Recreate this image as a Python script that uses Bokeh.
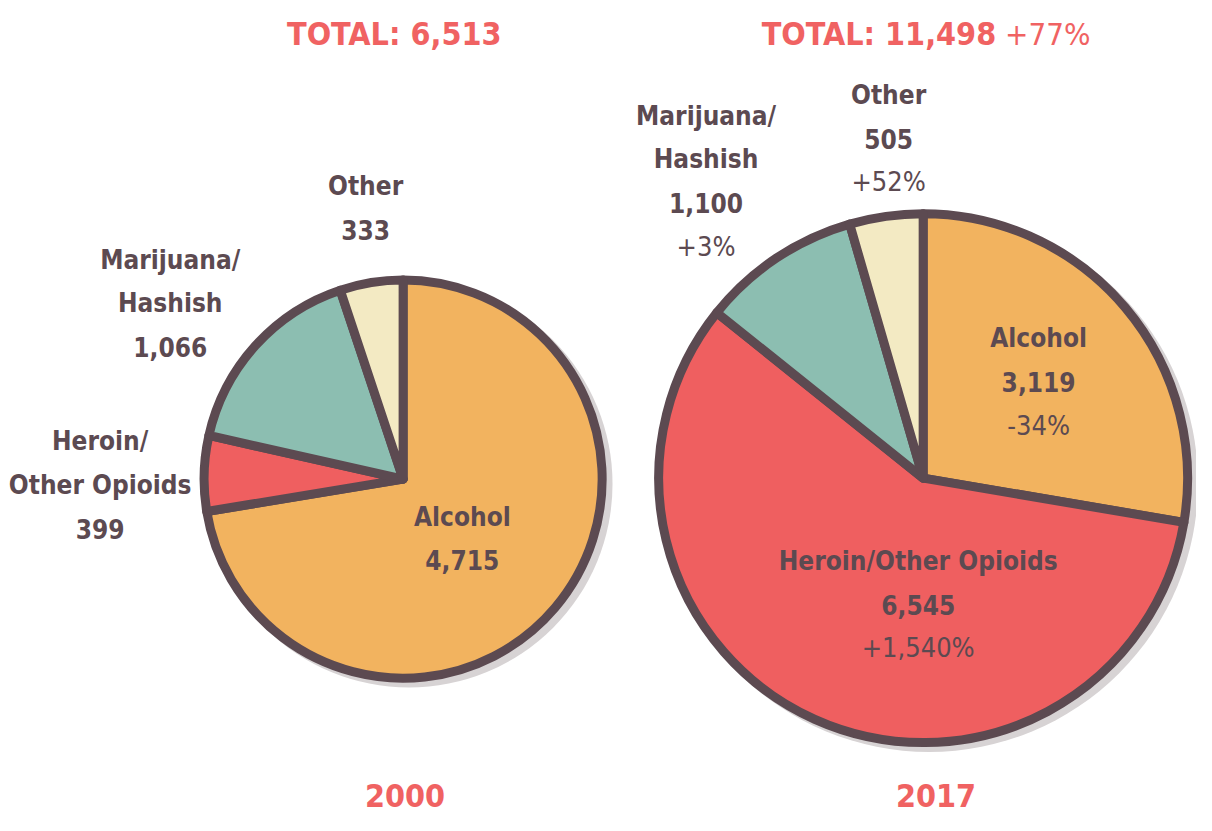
import numpy as np
from bokeh.plotting import figure
from bokeh.models import Range1d
from bokeh.core.properties import value
from bokeh.embed import file_html
from bokeh.resources import INLINE

# ---------------- data ----------------
categories = ["Alcohol", "Heroin/Other Opioids", "Marijuana/Hashish", "Other"]
counts_2000 = [4715, 399, 1066, 333]
counts_2017 = [3119, 6545, 1100, 505]
change_2017 = ["-34%", "+1,540%", "+3%", "+52%"]
totals = [6513, 11498]
total_change = "+77%"
years = ["2000", "2017"]
colors = ["#F2B35F", "#EF5F60", "#8CBEB1", "#F3EAC3"]

# ---------------- style / layout ----------------
W, H = 1196, 815
REF_W, REF_H = 1212, 831
SY = H / REF_H
STROKE = "#5C4A51"
TEXT = "#5C4A51"
TITLE = "#F06262"
SHADOW = "#D7D3D4"
FONT = value("'DejaVu Sans Condensed', 'Roboto Condensed', 'Liberation Sans Narrow', Roboto")
R_BIG = 268           # radius of the larger (2017) pie, px
LW = 9
BASE_FIX = 0.4        # baseline correction (in em) for the rendered text

def Y(y):
    return REF_H - y

p = figure(width=W, height=H, output_backend="svg", toolbar_location=None,
           x_range=Range1d(0, REF_W), y_range=Range1d(0, REF_H),
           min_border=0)
p.axis.visible = False
p.grid.visible = False
p.outline_line_color = None
p.background_fill_color = None
p.border_fill_color = "white"

centers = [(408, 488), (935, 487)]
radii = [R_BIG * np.sqrt(t / max(totals)) for t in totals]

for (cx, cy), r, counts in zip(centers, radii, [counts_2000, counts_2017]):
    vals = np.array(counts, dtype=float)
    frac = vals / vals.sum()
    cum = np.concatenate([[0], np.cumsum(frac)])
    start = np.pi / 2 - cum[1:] * 2 * np.pi
    end = np.pi / 2 - cum[:-1] * 2 * np.pi
    # shadow
    p.circle(x=[cx + 6], y=[Y(cy + 5)], radius=r + LW / 2, fill_color=SHADOW,
             line_color=None)
    p.wedge(x=[cx] * 4, y=[Y(cy)] * 4, radius=r, start_angle=list(start),
            end_angle=list(end), fill_color=colors, line_color=STROKE,
            line_width=LW, line_join="round")

def txt(x, y, s, size, color=TEXT, bold=True, align="center"):
    yy = y - BASE_FIX * size / SY
    p.text(x=[x], y=[Y(yy)], text=[s], text_font=FONT,
           text_font_size=f"{size}px", text_font_style="bold" if bold else "normal",
           text_color=color, text_align=align, text_baseline="alphabetic")

def name_lines(name, split):
    if not split:
        return [name]
    a, b = name.split("/")
    return [a + "/", b]

# label layout: (center x, first baseline, split name?)
lay_2000 = [(468, 537, False), (101, 460, True), (172, 275, True), (370, 200, False)]
lay_2017 = [(1052, 355, False), (930, 582, False), (715, 128, True), (900, 107, False)]
LS = 44.5
BOLD_SIZE = 26
PCT_SIZE = 27

for i, cat in enumerate(categories):
    cx, by, split = lay_2000[i]
    lines = name_lines(cat, split) + [f"{counts_2000[i]:,}"]
    for k, s in enumerate(lines):
        txt(cx, by + k * LS, s, BOLD_SIZE)
    cx, by, split = lay_2017[i]
    lines = name_lines(cat, split) + [f"{counts_2017[i]:,}"]
    for k, s in enumerate(lines):
        txt(cx, by + k * LS, s, BOLD_SIZE)
    txt(cx, by + len(lines) * LS, change_2017[i], PCT_SIZE, bold=False)

# titles
txt(399, 47, f"TOTAL: {totals[0]:,}", 32, color=TITLE)
txt(1009, 47, f"TOTAL: {totals[1]:,}", 32, color=TITLE, align="right")
txt(1018, 47, total_change, 31, color=TITLE, bold=False, align="left")

# years
txt(410, 824, years[0], 32, color=TITLE)
txt(948, 824, years[1], 32, color=TITLE)

open("out.html", "w").write(file_html(p, INLINE))
